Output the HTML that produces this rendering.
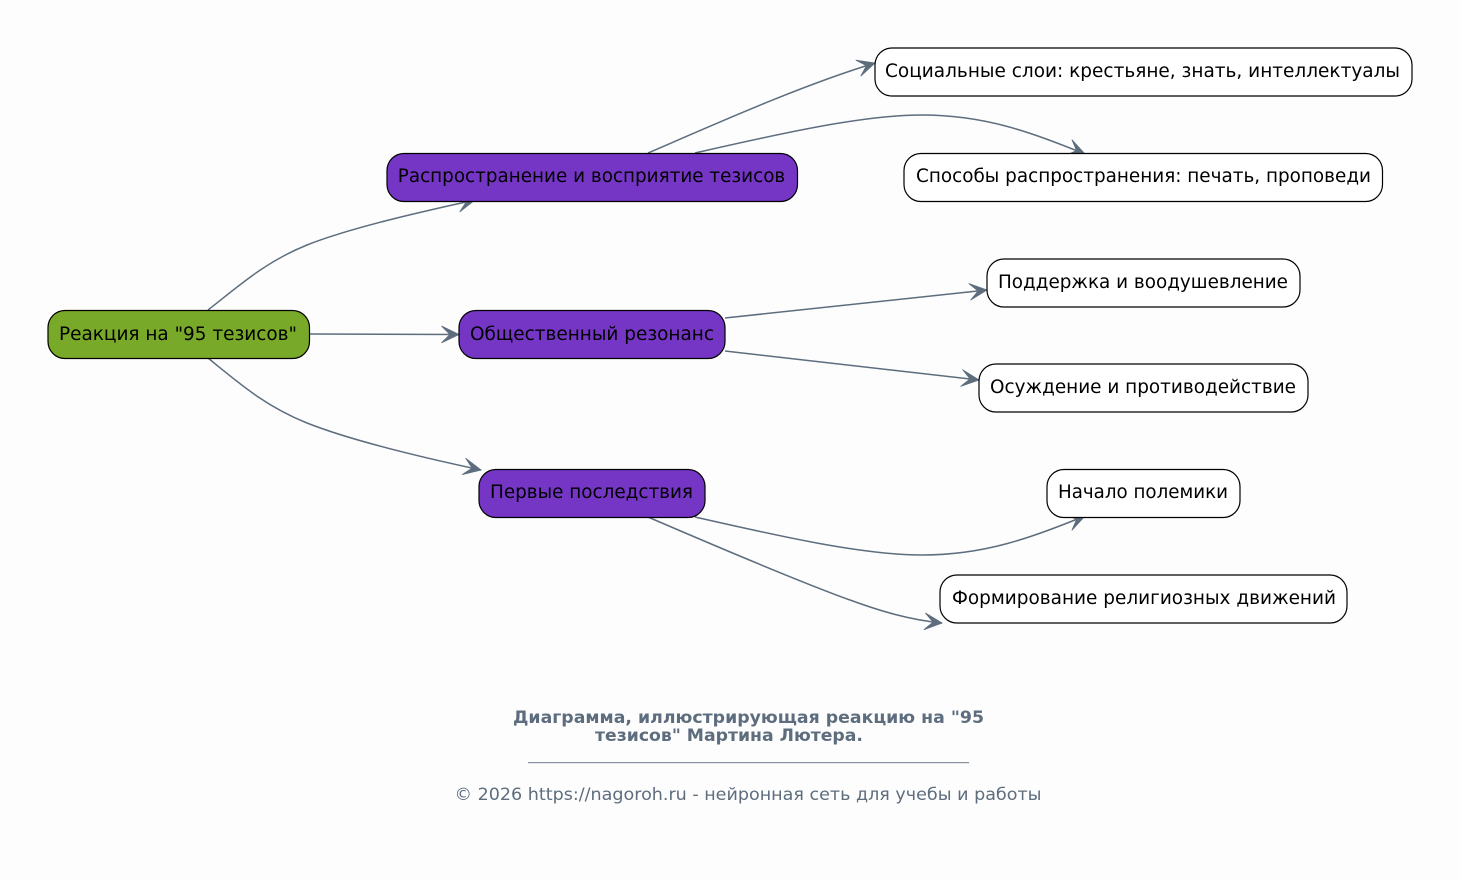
<!DOCTYPE html>
<html lang="ru">
<head>
<meta charset="utf-8">
<title>Реакция на "95 тезисов"</title>
<style>
html,body{margin:0;padding:0;background:#fdfdfd;}
svg{display:block;}
text{font-family:"DejaVu Sans",sans-serif;}
.n{font-size:18.45px;fill:#000;text-anchor:middle;}
.e{fill:none;stroke:#5d6d7e;stroke-width:1.5;marker-end:url(#v);}
.w{fill:#fff;stroke:#000;stroke-width:1.2;}
.p{fill:#7536c5;stroke:#000;stroke-width:1.2;}
</style>
</head>
<body>
<svg width="1460" height="879" viewBox="0 0 1460 879" xmlns="http://www.w3.org/2000/svg">
<defs>
<marker id="v" markerUnits="userSpaceOnUse" markerWidth="22" markerHeight="22" refX="19" refY="11" orient="auto" viewBox="0 0 22 22">
<path d="M19,11 L1.500,2.600 L10,11 L1.500,19.400 Z" fill="#5d6d7e" stroke="#5d6d7e" stroke-width="0.8"/>
</marker>
</defs>
<rect width="1460" height="879" fill="#fdfdfd"/>

<path class="e" d="M208,310 C240,285 265,262 307,245 C350,228 420,212 475,200"/>
<path class="e" d="M310,334 L459,334.500"/>
<path class="e" d="M208,358 C240,384 265,406 307,423 C350,440 420,457 481,470"/>
<path class="e" d="M648,153 C720,122 800,86 875,63"/>
<path class="e" d="M695,153 C770,136 860,115 922,115 C985,115 1030,132 1085,154"/>
<path class="e" d="M725,318 L987,290"/>
<path class="e" d="M725,351 L979,380"/>
<path class="e" d="M695,517 C770,534 860,555 922,555 C985,555 1030,538 1085,516"/>
<path class="e" d="M648,517 C720,548 800,582 850,600 C880,611 910,620 942,623"/>

<rect x="48" y="310.500" width="261.500" height="48" rx="17" fill="#79a928" stroke="#000" stroke-width="1.2"/>
<text class="n" x="178" y="340" textLength="238" lengthAdjust="spacingAndGlyphs">Реакция на "95 тезисов"</text>

<rect class="p" x="387" y="153.500" width="410.500" height="48" rx="17"/>
<text class="n" x="591.500" y="182" textLength="387.500" lengthAdjust="spacingAndGlyphs">Распространение и восприятие тезисов</text>
<rect class="p" x="459" y="310.500" width="266" height="48" rx="17"/>
<text class="n" x="592" y="340" textLength="244" lengthAdjust="spacingAndGlyphs">Общественный резонанс</text>
<rect class="p" x="479" y="469.500" width="226" height="48" rx="17"/>
<text class="n" x="591.500" y="498" textLength="203" lengthAdjust="spacingAndGlyphs">Первые последствия</text>

<rect class="w" x="875" y="48" width="537" height="48" rx="17"/>
<text class="n" x="1142.500" y="77" textLength="515" lengthAdjust="spacingAndGlyphs">Социальные слои: крестьяне, знать, интеллектуалы</text>
<rect class="w" x="904" y="153.500" width="478.500" height="48" rx="17"/>
<text class="n" x="1143.500" y="182" textLength="455" lengthAdjust="spacingAndGlyphs">Способы распространения: печать, проповеди</text>
<rect class="w" x="987" y="259" width="313" height="48" rx="17"/>
<text class="n" x="1143" y="288" textLength="290" lengthAdjust="spacingAndGlyphs">Поддержка и воодушевление</text>
<rect class="w" x="979" y="364" width="329" height="48" rx="17"/>
<text class="n" x="1143" y="393" textLength="306" lengthAdjust="spacingAndGlyphs">Осуждение и противодействие</text>
<rect class="w" x="1047" y="469.500" width="193" height="48" rx="17"/>
<text class="n" x="1143" y="498" textLength="170" lengthAdjust="spacingAndGlyphs">Начало полемики</text>
<rect class="w" x="940" y="575" width="407" height="48" rx="17"/>
<text class="n" x="1144" y="604" textLength="384" lengthAdjust="spacingAndGlyphs">Формирование религиозных движений</text>

<text x="748.500" y="723" font-size="16.500" font-weight="bold" fill="#5d6d7e" text-anchor="middle" textLength="471" lengthAdjust="spacingAndGlyphs">Диаграмма, иллюстрирующая реакцию на "95</text>
<text x="729" y="741" font-size="16.500" font-weight="bold" fill="#5d6d7e" text-anchor="middle" textLength="268" lengthAdjust="spacingAndGlyphs">тезисов" Мартина Лютера.</text>
<rect x="528" y="762" width="441" height="1.200" fill="#5d6d7e" opacity="0.75"/>
<text x="748" y="800" font-size="16.500" fill="#5d6d7e" text-anchor="middle" textLength="587" lengthAdjust="spacingAndGlyphs">© 2026 https://nagoroh.ru - нейронная сеть для учебы и работы</text>
</svg>
</body>
</html>
